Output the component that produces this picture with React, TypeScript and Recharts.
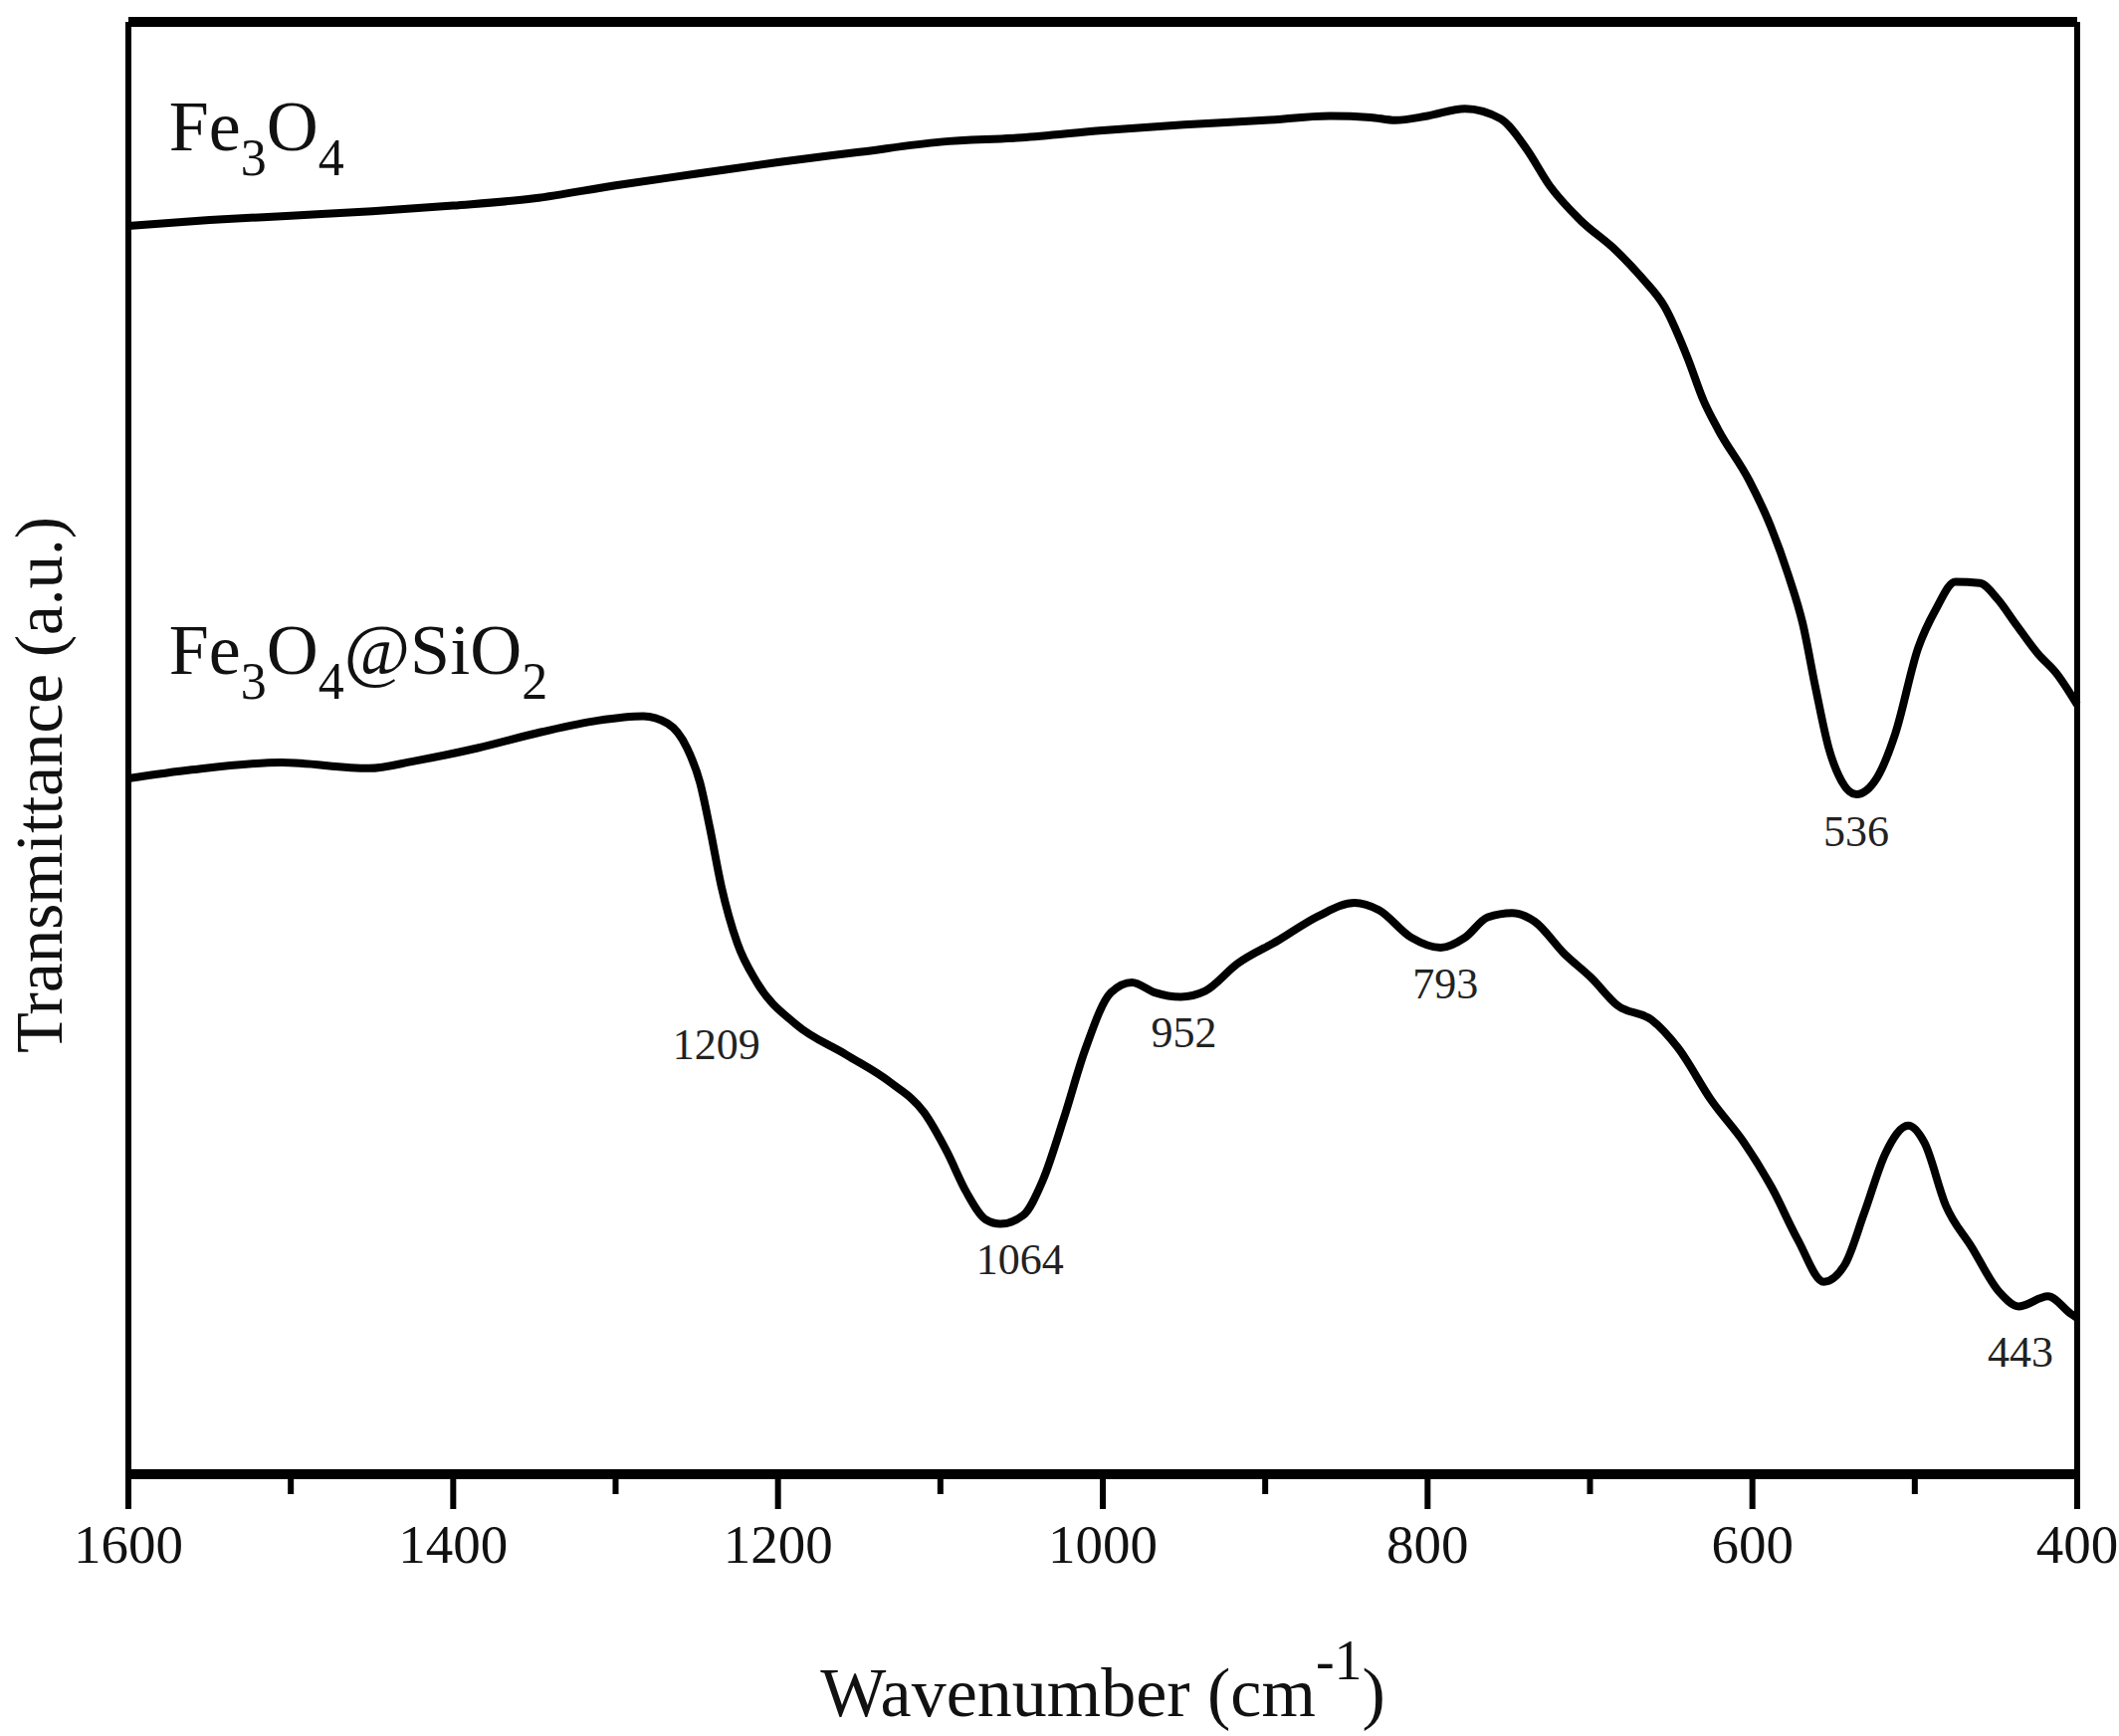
import { LineChart, Line, XAxis, YAxis, ReferenceDot, ReferenceLine } from "recharts";

const SERIF = '"Liberation Serif", "Times New Roman", serif';

// FT-IR spectra (transmittance in arbitrary units, 0..100)
const fe3o4Wn = [
  1600, 1550, 1500, 1450, 1400, 1350, 1300, 1250, 1200, 1150, 1100, 1050, 1000, 950, 900, 860, 835, 820,
  800, 777, 755, 739, 725, 706, 684, 668, 654, 640, 630, 621, 602, 589, 578, 569, 561, 553, 545, 536, 523,
  512, 498, 487, 475, 460, 449, 438, 424, 413, 400,
];
const fe3o4T = [
  86.0, 86.4, 86.7, 87.0, 87.4, 87.9, 88.8, 89.6, 90.4, 91.1, 91.8, 92.1, 92.6, 93.0, 93.3, 93.6, 93.5, 93.3,
  93.6, 94.1, 93.4, 91.3, 88.8, 86.4, 84.3, 82.4, 80.4, 76.9, 73.9, 71.9, 68.4, 65.3, 61.9, 58.5, 54.0, 49.9,
  47.6, 46.7, 47.9, 50.9, 56.8, 59.5, 61.4, 61.3, 60.2, 58.5, 56.4, 55.1, 52.9,
];

const coreShellWn = [
  1600, 1561, 1506, 1452, 1424, 1385, 1346, 1311, 1283, 1268, 1256, 1248, 1242, 1235, 1225, 1213, 1189, 1158,
  1131, 1110, 1096, 1084, 1072, 1063, 1049, 1037, 1024, 1011, 995, 982, 968, 952, 937, 917, 892, 867, 845,
  830, 810, 792, 777, 763, 748, 734, 716, 699, 683, 662, 646, 625, 605, 588, 572, 556, 543, 531, 518, 504,
  494, 481, 465, 448, 436, 418, 404, 400,
];
const coreShellT = [
  47.8, 48.4, 48.9, 48.5, 49.0, 49.9, 51.0, 51.8, 52.1, 51.6, 49.9, 47.5, 44.4, 40.4, 36.4, 33.7, 30.8, 28.7,
  26.8, 24.7, 22.0, 19.2, 17.3, 17.0, 17.6, 20.0, 24.3, 29.0, 33.0, 33.7, 33.0, 32.7, 33.1, 35.0, 36.6, 38.3,
  39.2, 38.7, 36.8, 36.1, 36.8, 38.2, 38.5, 37.9, 35.7, 34.0, 32.1, 31.1, 29.2, 25.5, 22.6, 19.5, 15.9, 13.0,
  14.2, 17.8, 21.9, 23.8, 22.6, 18.3, 15.4, 12.3, 11.3, 12.0, 10.8, 10.5,
];

const xTicks = [1600, 1500, 1400, 1300, 1200, 1100, 1000, 900, 800, 700, 600, 500, 400];
const xDomain = [400, 1600];
const yDomain = [-0.3, 100.1];

// peak annotations: text and the point (wavenumber, transmittance) where the text sits
const peakText = ["536", "1209", "1064", "952", "793", "443"];
const peakWn = [536, 1238, 1051, 950, 789, 435];
const peakT = [43.1, 28.4, 13.5, 29.2, 32.6, 7.1];

// sample names: main part + subscripts, and where they start
const sampleParts = [
  [["Fe", ""], ["3", "sub"], ["O", ""], ["4", "sub"]],
  [["Fe", ""], ["3", "sub"], ["O", ""], ["4", "sub"], ["@SiO", ""], ["2", "sub"]],
];
const sampleWn = [1575, 1575];
const sampleT = [91.2, 55.0];

const fe3o4 = fe3o4Wn.map((wn, i) => ({ wn, t: fe3o4T[i] }));
const coreShell = coreShellWn.map((wn, i) => ({ wn, t: coreShellT[i] }));

function WavenumberTick(props: any) {
  const { x, y, payload } = props;
  const major = payload.value % 200 === 0;
  return (
    <g>
      <line x1={x} x2={x} y1={y} y2={y + (major ? 35 : 20)} stroke="#000" strokeWidth={6} />
      {major && (
        <text x={x} y={y + 89} textAnchor="middle" fontSize={55} fontFamily={SERIF} fill="#111">
          {payload.value}
        </text>
      )}
    </g>
  );
}

function XTitle(props: any) {
  const { x, y, width } = props.viewBox;
  return (
    <text x={x + width / 2} y={y + 243} textAnchor="middle" fontSize={70} fontFamily={SERIF} fill="#111">
      Wavenumber (cm
      <tspan dy={-37} fontSize={56}>-1</tspan>
      <tspan dy={37}>)</tspan>
    </text>
  );
}

function YTitle(props: any) {
  const { x, y, height } = props.viewBox;
  const cx = x + 62;
  const cy = y + height / 2 + 37;
  return (
    <text
      x={cx}
      y={cy}
      transform={`rotate(-90 ${cx} ${cy})`}
      textAnchor="middle"
      fontSize={67}
      fontFamily={SERIF}
      fill="#111"
    >
      Transmittance (a.u.)
    </text>
  );
}

function sampleLabel(parts: string[][]) {
  return (props: any) => {
    const { x, y, width, height } = props.viewBox;
    let shift = 0;
    return (
      <text x={x + width / 2} y={y + height / 2} fontSize={72} fontFamily={SERIF} fill="#111">
        {parts.map(([s, kind], i) => {
          const want = kind === "sub" ? 25 : 0;
          const dy = want - shift;
          shift = want;
          return (
            <tspan key={i} dy={dy} fontSize={kind === "sub" ? 52 : 72}>
              {s}
            </tspan>
          );
        })}
      </text>
    );
  };
}

function peakLabel(text: string) {
  return (props: any) => {
    const { x, y, width, height } = props.viewBox;
    return (
      <text
        x={x + width / 2}
        y={y + height / 2}
        textAnchor="middle"
        fontSize={44}
        fontFamily={SERIF}
        fill="#222"
      >
        {text}
      </text>
    );
  };
}

export default function App() {
  return (
    <div style={{ position: "absolute", left: 0, top: 0, background: "#fff" }}>
      <LineChart width={2129} height={1744} margin={{ top: 22, right: 42, bottom: 0, left: 0 }}>
        <XAxis
          dataKey="wn"
          type="number"
          domain={xDomain}
          reversed
          ticks={xTicks}
          interval={0}
          tickSize={0}
          tickMargin={0}
          tickLine={false}
          tick={WavenumberTick}
          axisLine={{ stroke: "#000", strokeWidth: 10 }}
          height={263}
          label={XTitle}
        />
        <YAxis
          type="number"
          domain={yDomain}
          width={129}
          tick={false}
          tickLine={false}
          axisLine={{ stroke: "#000", strokeWidth: 6 }}
          label={YTitle}
        />
        {/* frame: top and right edges */}
        <ReferenceLine y={yDomain[1]} stroke="#000" strokeWidth={10} ifOverflow="visible" />
        <ReferenceLine x={xDomain[0]} stroke="#000" strokeWidth={6} ifOverflow="visible" />
        <Line
          data={fe3o4}
          dataKey="t"
          type="monotone"
          stroke="#000"
          strokeWidth={8}
          strokeLinejoin="round"
          dot={false}
          isAnimationActive={false}
        />
        <Line
          data={coreShell}
          dataKey="t"
          type="monotone"
          stroke="#000"
          strokeWidth={8}
          strokeLinejoin="round"
          dot={false}
          isAnimationActive={false}
        />
        {sampleParts.map((parts, i) => (
          <ReferenceDot
            key={`s${i}`}
            x={sampleWn[i]}
            y={sampleT[i]}
            r={1}
            fill="none"
            stroke="none"
            label={sampleLabel(parts)}
          />
        ))}
        {peakText.map((text, i) => (
          <ReferenceDot
            key={`p${i}`}
            x={peakWn[i]}
            y={peakT[i]}
            r={1}
            fill="none"
            stroke="none"
            label={peakLabel(text)}
          />
        ))}
      </LineChart>
    </div>
  );
}
